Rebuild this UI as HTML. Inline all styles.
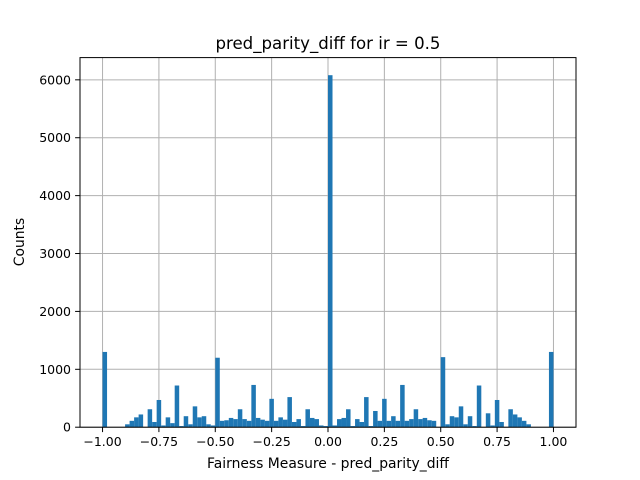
<!DOCTYPE html>
<html><head><meta charset="utf-8"><style>
body{margin:0;background:#fff;}
svg{display:block;font-family:"DejaVu Sans","Liberation Sans",sans-serif;}
</style></head><body>
<svg id="chart" width="640" height="480" viewBox="0 0 640 480" xmlns="http://www.w3.org/2000/svg">
<rect x="0" y="0" width="640" height="480" fill="#fff"/>
<text x="328" y="49" font-size="16.6" text-anchor="middle">pred_parity_diff for ir = 0.5</text>
<text x="328" y="468" font-size="13.9" text-anchor="middle">Fairness Measure - pred_parity_diff</text>
<text transform="translate(24,242) rotate(-90)" font-size="13.9" text-anchor="middle">Counts</text>
<g id="grid"></g><g id="bars"></g><g id="axes"></g>
</svg>
<script>
const binStart = -1.0;
const binWidth = 0.02;
const counts = [1300,0,0,0,0,50,110,170,220,0,310,90,470,30,170,70,720,20,190,50,360,170,190,50,30,
1200,110,120,160,140,310,140,110,730,160,130,110,490,110,170,130,520,90,140,20,310,160,140,30,20,
6080,30,140,160,310,20,140,90,520,20,280,110,490,110,190,110,730,110,140,310,140,160,120,110,0,
1210,50,190,170,360,50,190,20,720,0,240,30,470,90,0,310,220,170,110,50,0,0,0,0,1300];
const xTicks = [-1.0,-0.75,-0.5,-0.25,0.0,0.25,0.5,0.75,1.0];
const xTickLabels = ["−1.00","−0.75","−0.50","−0.25","0.00","0.25","0.50","0.75","1.00"];
const yTicks = [0,1000,2000,3000,4000,5000,6000];
const NS="http://www.w3.org/2000/svg";
const L=80,R=576,T=57.6,B=427.2;
const xMin=-1.1,xMax=1.1,yMax=Math.max(...counts)*1.05;
const sx=v=>L+(v-xMin)/(xMax-xMin)*(R-L);
const sy=v=>B-v/yMax*(B-T);
function mk(tag,attrs,parent){const e=document.createElementNS(NS,tag);for(const k in attrs)e.setAttribute(k,attrs[k]);parent.appendChild(e);return e;}
const grid=document.getElementById('grid'),bars=document.getElementById('bars'),axes=document.getElementById('axes');
xTicks.forEach((t,i)=>{
 const x=sx(t);
 const g=mk('line',{x1:x,x2:x,y1:T,y2:B,stroke:'#b0b0b0','stroke-width':1},grid);
 
 
 const tk=mk('line',{x1:x,x2:x,y1:B,y2:B+4.9,stroke:'#000','stroke-width':1},axes);
 
 
 const lb=mk('text',{x:x,y:B+19,'font-size':12.5,'text-anchor':'middle'},axes);
 lb.textContent=xTickLabels[i];
 
 
});
yTicks.forEach(t=>{
 const y=sy(t);
 const g=mk('line',{x1:L,x2:R,y1:y,y2:y,stroke:'#b0b0b0','stroke-width':1},grid);
 
 
 const tk=mk('line',{x1:L-4.9,x2:L,y1:y,y2:y,stroke:'#000','stroke-width':1},axes);
 
 
 const lb=mk('text',{x:L-9,y:y+4.5,'font-size':12.5,'text-anchor':'end'},axes);
 lb.textContent=String(t);
 
 
});
counts.forEach((c,i)=>{
 if(c<=0)return;
 const x0=sx(binStart+i*binWidth),x1=sx(binStart+(i+1)*binWidth);
 const r=mk('rect',{x:x0,y:sy(c),width:x1-x0,height:B-sy(c),fill:'#1f77b4'},bars);
 
 
});
const fr=mk('rect',{x:L,y:T,width:R-L,height:B-T,fill:'none',stroke:'#000','stroke-width':1},axes);


</script>
</body></html>
